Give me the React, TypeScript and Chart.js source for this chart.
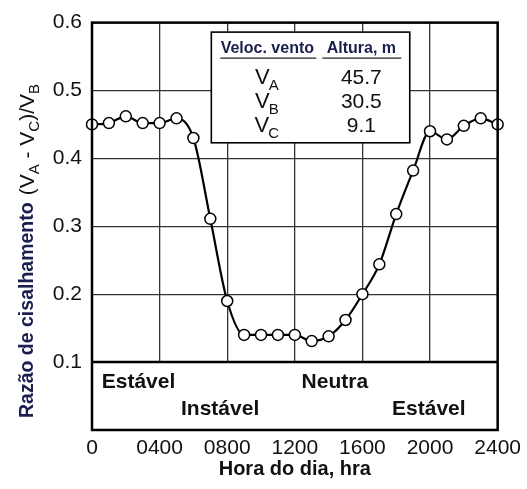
import React, { useEffect, useRef } from "react";
import { Chart, registerables } from "chart.js";

Chart.register(...registerables);

// ---- data ----
const hours = [0, 100, 200, 300, 400, 500, 600, 700, 800, 900, 1000, 1100, 1200, 1300, 1400, 1500, 1600, 1700, 1800, 1900, 2000, 2100, 2200, 2300, 2400];
const shearRatio = [0.45, 0.452, 0.462, 0.452, 0.452, 0.459, 0.43, 0.311, 0.19, 0.14, 0.14, 0.14, 0.14, 0.131, 0.138, 0.162, 0.2, 0.244, 0.318, 0.382, 0.44, 0.428, 0.448, 0.459, 0.45];
const xTickValues = [0, 400, 800, 1200, 1600, 2000, 2400];
const yTickValues = [0.1, 0.2, 0.3, 0.4, 0.5, 0.6];

const tableHeaders = ["Veloc. vento", "Altura, m"];
const tableLevels = ["A", "B", "C"];
const tableHeights = ["45.7", "30.5", "9.1"];

const stabilityText = ["Estável", "Neutra", "Instável", "Estável"];
const stabilityHour = [275, 1437, 758, 1993];
const stabilityRow = [0, 0, 1, 1];
const stabilityRowValue = [0.071, 0.03];
const bandTop = 0.1;

// table box in data units: [x0, x1, yTop, yBottom]
const tableBox = [706, 1880, 0.586, 0.423];

const FONT = "'Liberation Sans', Arial, Helvetica, sans-serif";
const TITLE_COLOR = "#1b1f4e";

const decorPlugin = {
  id: "decor",
  beforeDatasetsDraw(chart: any) {
    const { ctx, chartArea: a, scales } = chart;
    const x = scales.x;
    const y = scales.y;
    ctx.save();
    // lower stability band
    const yb = y.getPixelForValue(bandTop);
    ctx.fillStyle = "#fff";
    ctx.fillRect(a.left, yb, a.right - a.left, a.bottom - yb);
    ctx.strokeStyle = "#000";
    ctx.lineWidth = 2.5;
    ctx.beginPath();
    ctx.moveTo(a.left, yb);
    ctx.lineTo(a.right, yb);
    ctx.stroke();

    ctx.font = `bold 21px ${FONT}`;
    ctx.fillStyle = "#111";
    ctx.textAlign = "center";
    ctx.textBaseline = "middle";
    stabilityText.forEach((t, i) => {
      ctx.fillText(t, x.getPixelForValue(stabilityHour[i]), y.getPixelForValue(stabilityRowValue[stabilityRow[i]]));
    });

    // inset table
    const L = x.getPixelForValue(tableBox[0]);
    const R = x.getPixelForValue(tableBox[1]);
    const T = y.getPixelForValue(tableBox[2]);
    const B = y.getPixelForValue(tableBox[3]);
    ctx.fillStyle = "#fff";
    ctx.fillRect(L, T, R - L, B - T);
    ctx.lineWidth = 1.6;
    ctx.strokeStyle = "#000";
    ctx.strokeRect(L, T, R - L, B - T);

    const col1 = L + 56;
    const col2 = L + 150;
    ctx.font = `bold 16px ${FONT}`;
    ctx.fillStyle = TITLE_COLOR;
    ctx.fillText(tableHeaders[0], col1, T + 16);
    ctx.fillText(tableHeaders[1], col2, T + 16);
    ctx.lineWidth = 1.3;
    ctx.strokeStyle = "#222";
    ctx.beginPath();
    ctx.moveTo(L + 9, T + 26);
    ctx.lineTo(L + 105, T + 26);
    ctx.moveTo(L + 111, T + 26);
    ctx.lineTo(L + 190, T + 26);
    ctx.stroke();

    ctx.fillStyle = "#111";
    tableLevels.forEach((lv, i) => {
      const cy = T + 46 + i * 24;
      ctx.font = `22px ${FONT}`;
      const wV = ctx.measureText("V").width;
      ctx.font = `15px ${FONT}`;
      const wS = ctx.measureText(lv).width;
      const start = col1 - (wV + wS) / 2;
      ctx.textAlign = "left";
      ctx.font = `22px ${FONT}`;
      ctx.fillText("V", start, cy);
      ctx.font = `15px ${FONT}`;
      ctx.fillText(lv, start + wV - 1, cy + 8);
      ctx.textAlign = "center";
      ctx.font = `21px ${FONT}`;
      ctx.fillText(tableHeights[i], col2, cy);
    });
    ctx.restore();
  },
  afterDatasetsDraw(chart: any) {
    const { ctx, chartArea: a } = chart;
    ctx.save();
    ctx.strokeStyle = "#000";
    ctx.lineWidth = 2.5;
    ctx.strokeRect(a.left, a.top, a.right - a.left, a.bottom - a.top);
    ctx.restore();
  },
  afterDraw(chart: any) {
    const { ctx, chartArea: a } = chart;
    ctx.save();
    ctx.translate(28, a.bottom - 12);
    ctx.rotate(-Math.PI / 2);
    ctx.textAlign = "left";
    ctx.textBaseline = "middle";
    let px = 0;
    const seg = (text: string, font: string, color: string, dy = 0) => {
      ctx.font = font;
      ctx.fillStyle = color;
      ctx.fillText(text, px, dy);
      px += ctx.measureText(text).width;
    };
    const reg = `21px ${FONT}`;
    const sub = `15px ${FONT}`;
    seg("Razão de cisalhamento", `bold 19.5px ${FONT}`, TITLE_COLOR);
    px += 7;
    seg("(V", reg, "#111");
    seg("A", sub, "#111", 7);
    seg(" - V", reg, "#111");
    seg("C", sub, "#111", 7);
    seg(")/V", reg, "#111");
    seg("B", sub, "#111", 7);
    ctx.restore();
  },
};

export default function App() {
  const ref = useRef<HTMLCanvasElement | null>(null);
  useEffect(() => {
    if (!ref.current) return;
    const chart = new Chart(ref.current, {
      type: "line",
      data: {
        labels: hours,
        datasets: [
          {
            data: hours.map((h, i) => ({ x: h, y: shearRatio[i] })),
            borderColor: "#000",
            borderWidth: 2.2,
            cubicInterpolationMode: "monotone",
            pointRadius: 5.5,
            pointBorderWidth: 1.5,
            pointBorderColor: "#000",
            pointBackgroundColor: "#fff",
            clip: false as any,
          },
        ],
      },
      options: {
        responsive: false,
        animation: false,
        devicePixelRatio: 1,
        layout: { padding: { top: 17, right: 25, left: 0, bottom: 0 } },
        plugins: { legend: { display: false }, tooltip: { enabled: false } },
        scales: {
          x: {
            type: "linear",
            min: 0,
            max: 2400,
            afterFit: (s: any) => {
              s.height = 59;
            },
            afterBuildTicks: (s: any) => {
              s.ticks = xTickValues.map((v) => ({ value: v }));
            },
            ticks: {
              padding: 6,
              color: "#111",
              font: { family: FONT, size: 21 },
              maxRotation: 0,
              autoSkip: false,
              callback: (v: any) => (v === 0 ? "0" : String(v).padStart(4, "0")),
            },
            grid: { color: "#333", lineWidth: 1.3, drawTicks: false },
            border: { display: false },
            title: {
              display: true,
              text: "Hora do dia, hra",
              color: "#111",
              font: { family: FONT, size: 20, weight: "bold" },
              padding: { top: 0, bottom: 8 },
            },
          },
          y: {
            type: "linear",
            min: 0,
            max: 0.6,
            afterFit: (s: any) => {
              s.width = 92;
            },
            afterBuildTicks: (s: any) => {
              s.ticks = [0, ...yTickValues].map((v) => ({ value: v }));
            },
            ticks: {
              padding: 10,
              color: "#111",
              font: { family: FONT, size: 21 },
              callback: (v: any) => (v === 0 ? "" : Number(v).toFixed(1)),
            },
            grid: { color: "#333", lineWidth: 1.3, drawTicks: false },
            border: { display: false },
          },
        },
      },
      plugins: [decorPlugin],
    });
    return () => chart.destroy();
  }, []);
  return (
    <div style={{ position: "absolute", left: 0, top: 0, width: 527, height: 489, background: "#fff" }}>
      <canvas ref={ref} width={527} height={489} style={{ display: "block" }} />
    </div>
  );
}
